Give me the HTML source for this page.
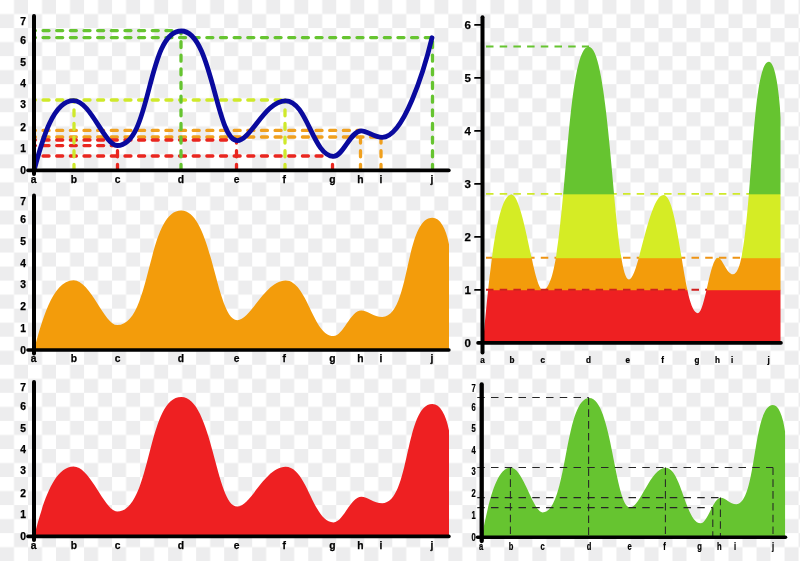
<!DOCTYPE html>
<html lang="en"><head><meta charset="utf-8"><title>Charts</title>
<style>html,body{margin:0;padding:0;background:#fff}svg{display:block}text{font-family:"Liberation Sans",Arial,sans-serif;font-weight:bold;fill:#000;stroke:#000;stroke-width:0.25px}</style>
</head><body>
<svg width="800" height="561" viewBox="0 0 800 561">
<defs>
<pattern id="chk" width="28.02" height="28.06" patternUnits="userSpaceOnUse"><rect width="28.02" height="28.06" fill="#fff"/><rect x="14.01" width="14.01" height="14.03" fill="#ededee"/><rect y="14.03" width="14.01" height="14.03" fill="#ededee"/></pattern>
<path id="area" d="M0.0,-0.0 C7.2,-25.7 17.9,-69.8 39.6,-69.8 C56.5,-69.8 70.5,-24.9 83.3,-24.9 C117.6,-24.9 112.6,-139.4 147.3,-139.4 C178.2,-139.4 182.0,-29.8 203.3,-29.8 C216.6,-29.8 231.1,-69.6 251.6,-69.6 C273.2,-69.6 279.0,-14.0 299.5,-14.0 C309.2,-14.0 316.4,-39.6 327.3,-39.6 C333.5,-39.6 339.6,-33.1 348.3,-33.1 C376.4,-33.1 370.5,-132.3 398.4,-132.3 C405.9,-132.3 411.9,-122.1 415.0,-105.8 L415.0,0 L0,0 Z"/>
<clipPath id="clipA"><path d="M0.0,-0.0 C7.2,-25.7 17.9,-69.8 39.6,-69.8 C56.5,-69.8 70.5,-24.9 83.3,-24.9 C117.6,-24.9 112.6,-139.4 147.3,-139.4 C178.2,-139.4 182.0,-29.8 203.3,-29.8 C216.6,-29.8 231.1,-69.6 251.6,-69.6 C273.2,-69.6 279.0,-14.0 299.5,-14.0 C309.2,-14.0 316.4,-40.1 327.3,-40.1 C333.5,-40.1 339.6,-32.3 348.3,-32.3 C376.4,-32.3 370.5,-132.3 398.4,-132.3 C405.9,-132.3 411.9,-122.1 415.0,-105.8 L415.0,0 L0,0 Z"/></clipPath>
</defs>
<rect width="800" height="561" fill="url(#chk)"/>
<use href="#area" transform="translate(34,350)" fill="#f39c0b"/>
<g stroke="#000" stroke-linecap="round" fill="none">
<path stroke-width="4" d="M34,195.5 V353.5"/><path stroke-width="3.6" d="M28,350 H448.9"/></g>
<text x="23" y="353.7" font-size="10.3" text-anchor="middle">0</text>
<text x="23" y="331.6" font-size="10.3" text-anchor="middle">1</text>
<text x="23" y="310.2" font-size="10.3" text-anchor="middle">2</text>
<text x="23" y="288.0" font-size="10.3" text-anchor="middle">3</text>
<text x="23" y="266.5" font-size="10.3" text-anchor="middle">4</text>
<text x="23" y="245.3" font-size="10.3" text-anchor="middle">5</text>
<text x="23" y="223.3" font-size="10.3" text-anchor="middle">6</text>
<text x="23" y="204.5" font-size="10.3" text-anchor="middle">7</text>
<text x="33.5" y="362.1" font-size="10.3" text-anchor="middle">a</text>
<text x="74.0" y="362.1" font-size="10.3" text-anchor="middle">b</text>
<text x="117.5" y="362.1" font-size="10.3" text-anchor="middle">c</text>
<text x="181.0" y="362.1" font-size="10.3" text-anchor="middle">d</text>
<text x="236.5" y="362.1" font-size="10.3" text-anchor="middle">e</text>
<text x="284.2" y="362.1" font-size="10.3" text-anchor="middle">f</text>
<text x="332.5" y="362.1" font-size="10.3" text-anchor="middle">g</text>
<text x="360.5" y="362.1" font-size="10.3" text-anchor="middle">h</text>
<text x="381.0" y="362.1" font-size="10.3" text-anchor="middle">i</text>
<text x="432.0" y="362.1" font-size="10.3" text-anchor="middle">j</text>
<use href="#area" transform="translate(34,536.4)" fill="#ee2022"/>
<g stroke="#000" stroke-linecap="round" fill="none">
<path stroke-width="4" d="M34,381.9 V539.9"/><path stroke-width="3.6" d="M28,536.4 H448.9"/></g>
<text x="23" y="540.1" font-size="10.3" text-anchor="middle">0</text>
<text x="23" y="518.0" font-size="10.3" text-anchor="middle">1</text>
<text x="23" y="496.6" font-size="10.3" text-anchor="middle">2</text>
<text x="23" y="474.4" font-size="10.3" text-anchor="middle">3</text>
<text x="23" y="452.9" font-size="10.3" text-anchor="middle">4</text>
<text x="23" y="431.7" font-size="10.3" text-anchor="middle">5</text>
<text x="23" y="409.7" font-size="10.3" text-anchor="middle">6</text>
<text x="23" y="390.9" font-size="10.3" text-anchor="middle">7</text>
<text x="33.5" y="548.5" font-size="10.3" text-anchor="middle">a</text>
<text x="74.0" y="548.5" font-size="10.3" text-anchor="middle">b</text>
<text x="117.5" y="548.5" font-size="10.3" text-anchor="middle">c</text>
<text x="181.0" y="548.5" font-size="10.3" text-anchor="middle">d</text>
<text x="236.5" y="548.5" font-size="10.3" text-anchor="middle">e</text>
<text x="284.2" y="548.5" font-size="10.3" text-anchor="middle">f</text>
<text x="332.5" y="548.5" font-size="10.3" text-anchor="middle">g</text>
<text x="360.5" y="548.5" font-size="10.3" text-anchor="middle">h</text>
<text x="381.0" y="548.5" font-size="10.3" text-anchor="middle">i</text>
<text x="432.0" y="548.5" font-size="10.3" text-anchor="middle">j</text>
<g fill="none" stroke-width="3.3" stroke-linecap="round" stroke-dasharray="6 7.65">
<path d="M34,156.0 H332.5" stroke="#e9261f" stroke-dashoffset="4.6"/>
<path d="M34,145.6 H117.5" stroke="#e9261f" stroke-dashoffset="4.6"/>
<path d="M34,137.0 H381" stroke="#f0a01e" stroke-dashoffset="4.6"/>
<path d="M34,130.4 H360.5" stroke="#f0a01e" stroke-dashoffset="4.6"/>
<path d="M34,140.0 H236.5" stroke="#e9261f" stroke-dashoffset="4.6"/>
<path d="M34,100.0 H285" stroke="#cfe92b" stroke-dashoffset="4.6"/>
<path d="M34,37.6 H432.5" stroke="#66c430" stroke-dashoffset="4.6"/>
<path d="M34,30.6 H181" stroke="#66c430" stroke-dashoffset="4.6"/>
<path d="M74,170.4 V100.0" stroke="#cfe92b"/>
<path d="M117.5,170.4 V145.6" stroke="#e9261f"/>
<path d="M181,170.4 V30.6" stroke="#66c430"/>
<path d="M236.5,170.4 V140.0" stroke="#e9261f"/>
<path d="M285,170.4 V100.0" stroke="#cfe92b"/>
<path d="M332.5,170.4 V156.0" stroke="#e9261f"/>
<path d="M360.5,170.4 V130.4" stroke="#f0a01e"/>
<path d="M381,170.4 V137.0" stroke="#f0a01e"/>
<path d="M432.5,170.4 V37.6" stroke="#66c430"/>
</g>
<path d="M0.0,-0.0 C7.2,-25.7 17.9,-69.8 39.6,-69.8 C56.5,-69.8 70.5,-24.9 83.3,-24.9 C117.6,-24.9 112.6,-139.4 147.3,-139.4 C178.2,-139.4 182.0,-29.8 203.3,-29.8 C216.6,-29.8 231.1,-69.6 251.6,-69.6 C273.2,-69.6 279.0,-14.0 299.5,-14.0 C309.2,-14.0 316.4,-39.6 327.3,-39.6 C333.5,-39.6 339.6,-33.1 348.3,-33.1 C369.3,-33.1 390,-99.4 398,-132.6" transform="translate(34,170.4)" fill="none" stroke="#0a0a9e" stroke-width="4.8" stroke-linecap="round" stroke-linejoin="round"/>
<g stroke="#000" stroke-linecap="round" fill="none">
<path stroke-width="4" d="M34,15.900000000000006 V173.9"/><path stroke-width="3.6" d="M28,170.4 H448.9"/></g>
<text x="23" y="174.1" font-size="10.3" text-anchor="middle">0</text>
<text x="23" y="152.0" font-size="10.3" text-anchor="middle">1</text>
<text x="23" y="130.6" font-size="10.3" text-anchor="middle">2</text>
<text x="23" y="108.4" font-size="10.3" text-anchor="middle">3</text>
<text x="23" y="86.9" font-size="10.3" text-anchor="middle">4</text>
<text x="23" y="65.7" font-size="10.3" text-anchor="middle">5</text>
<text x="23" y="43.7" font-size="10.3" text-anchor="middle">6</text>
<text x="23" y="24.9" font-size="10.3" text-anchor="middle">7</text>
<text x="33.5" y="182.5" font-size="10.3" text-anchor="middle">a</text>
<text x="74.0" y="182.5" font-size="10.3" text-anchor="middle">b</text>
<text x="117.5" y="182.5" font-size="10.3" text-anchor="middle">c</text>
<text x="181.0" y="182.5" font-size="10.3" text-anchor="middle">d</text>
<text x="236.5" y="182.5" font-size="10.3" text-anchor="middle">e</text>
<text x="284.2" y="182.5" font-size="10.3" text-anchor="middle">f</text>
<text x="332.5" y="182.5" font-size="10.3" text-anchor="middle">g</text>
<text x="360.5" y="182.5" font-size="10.3" text-anchor="middle">h</text>
<text x="381.0" y="182.5" font-size="10.3" text-anchor="middle">i</text>
<text x="432.0" y="182.5" font-size="10.3" text-anchor="middle">j</text>
<g fill="none" stroke-width="1.9" stroke-dasharray="7.5 6.2">
<path d="M486,193.9 H749" stroke="#cfe92b"/>
<path d="M486,257.8 H740" stroke="#ee9414"/>
</g>
<g transform="translate(483,342.9) scale(0.7176,2.125)"><g clip-path="url(#clipA)">
<rect x="0" y="-24.99" width="415.0" height="24.99" fill="#ee2022"/>
<rect x="0" y="-40.05" width="415.0" height="15.26" fill="#f39c0b"/>
<rect x="0" y="-70.12" width="415.0" height="30.27" fill="#d5ec25"/>
<rect x="0" y="-145" width="415.0" height="75.08" fill="#66c430"/>
</g></g>
<g fill="none" stroke-width="1.9" stroke-dasharray="7.5 6.2">
<path d="M486,46.5 H589" stroke="#66c430"/>
<path d="M486,289.8 H707" stroke="#cf1f1f"/>
</g>
<g stroke="#000" stroke-linecap="round" fill="none">
<path d="M482.5,17.2 V352.6" stroke-width="4"/><path d="M478,342.9 H781" stroke-width="3.6"/>
<path d="M475,289.9 H482" stroke-width="1.8"/>
<path d="M475,236.9 H482" stroke-width="1.8"/>
<path d="M475,183.9 H482" stroke-width="1.8"/>
<path d="M475,130.9 H482" stroke-width="1.8"/>
<path d="M475,77.9 H482" stroke-width="1.8"/>
<path d="M475,24.9 H482" stroke-width="1.8"/>
</g>
<text x="467.8" y="347.1" font-size="11.5" text-anchor="middle">0</text>
<text x="467.8" y="294.1" font-size="11.5" text-anchor="middle">1</text>
<text x="467.8" y="241.1" font-size="11.5" text-anchor="middle">2</text>
<text x="467.8" y="188.1" font-size="11.5" text-anchor="middle">3</text>
<text x="467.8" y="135.1" font-size="11.5" text-anchor="middle">4</text>
<text x="467.8" y="82.1" font-size="11.5" text-anchor="middle">5</text>
<text x="467.8" y="29.1" font-size="11.5" text-anchor="middle">6</text>
<text transform="translate(482.6,362.9) scale(0.9,1)" font-size="9" text-anchor="middle">a</text>
<text transform="translate(512,362.9) scale(0.9,1)" font-size="9" text-anchor="middle">b</text>
<text transform="translate(542.7,362.9) scale(0.9,1)" font-size="9" text-anchor="middle">c</text>
<text transform="translate(588.5,362.9) scale(0.9,1)" font-size="9" text-anchor="middle">d</text>
<text transform="translate(627.8,362.9) scale(0.9,1)" font-size="9" text-anchor="middle">e</text>
<text transform="translate(662.5,362.9) scale(0.9,1)" font-size="9" text-anchor="middle">f</text>
<text transform="translate(697,362.9) scale(0.9,1)" font-size="9" text-anchor="middle">g</text>
<text transform="translate(717.5,362.9) scale(0.9,1)" font-size="9" text-anchor="middle">h</text>
<text transform="translate(732,362.9) scale(0.9,1)" font-size="9" text-anchor="middle">i</text>
<text transform="translate(768.7,362.9) scale(0.9,1)" font-size="9" text-anchor="middle">j</text>
<use href="#area" transform="translate(481.7,537.3) scale(0.731,1)" fill="#66c430"/>
<g fill="none" stroke="#262626" stroke-width="1.05" stroke-dasharray="7.5 6.25">
<path d="M477.25,397.5 H588.6"/>
<path d="M477.25,467.5 H773"/>
<path d="M477.25,497.6 H720.4"/>
<path d="M477.25,507.6 H712.8"/>
</g>
<g fill="none" stroke="#262626" stroke-width="1.05" stroke-dasharray="7.6 4.2">
<path d="M588.6,397.5 V537.3"/>
<path d="M773,467.5 V537.3"/>
<path d="M720.4,497.6 V537.3"/>
<path d="M712.8,507.6 V537.3"/>
<path d="M510.4,467.5 V537.3"/>
<path d="M665.4,467.5 V537.3"/>
</g>
<g stroke="#000" stroke-linecap="round" fill="none">
<path d="M481.7,384.5 V541" stroke-width="4.3"/><path d="M477.5,537.3 H785.5" stroke-width="3.5"/></g>
<text transform="translate(473.6,541.0) scale(0.72,1)" font-size="10.5" text-anchor="middle">0</text>
<text transform="translate(473.6,518.9) scale(0.72,1)" font-size="10.5" text-anchor="middle">1</text>
<text transform="translate(473.6,497.4) scale(0.72,1)" font-size="10.5" text-anchor="middle">2</text>
<text transform="translate(473.6,475.4) scale(0.72,1)" font-size="10.5" text-anchor="middle">3</text>
<text transform="translate(473.6,453.7) scale(0.72,1)" font-size="10.5" text-anchor="middle">4</text>
<text transform="translate(473.6,432.4) scale(0.72,1)" font-size="10.5" text-anchor="middle">5</text>
<text transform="translate(473.6,410.6) scale(0.72,1)" font-size="10.5" text-anchor="middle">6</text>
<text transform="translate(473.6,391.7) scale(0.72,1)" font-size="10.5" text-anchor="middle">7</text>
<text transform="translate(481,550) scale(0.72,1)" font-size="10.5" text-anchor="middle">a</text>
<text transform="translate(511,550) scale(0.72,1)" font-size="10.5" text-anchor="middle">b</text>
<text transform="translate(542.5,550) scale(0.72,1)" font-size="10.5" text-anchor="middle">c</text>
<text transform="translate(589,550) scale(0.72,1)" font-size="10.5" text-anchor="middle">d</text>
<text transform="translate(629.5,550) scale(0.72,1)" font-size="10.5" text-anchor="middle">e</text>
<text transform="translate(664.5,550) scale(0.72,1)" font-size="10.5" text-anchor="middle">f</text>
<text transform="translate(699.5,550) scale(0.72,1)" font-size="10.5" text-anchor="middle">g</text>
<text transform="translate(719.4,550) scale(0.72,1)" font-size="10.5" text-anchor="middle">h</text>
<text transform="translate(735,550) scale(0.72,1)" font-size="10.5" text-anchor="middle">i</text>
<text transform="translate(773,550) scale(0.72,1)" font-size="10.5" text-anchor="middle">j</text>
</svg></body></html>
